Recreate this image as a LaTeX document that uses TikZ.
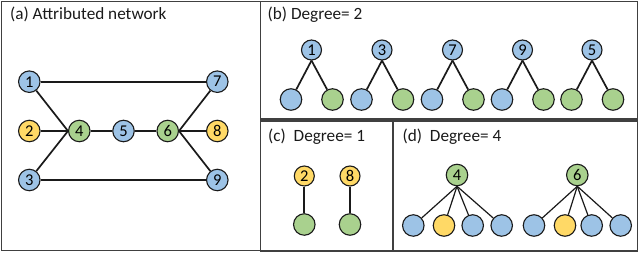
\documentclass[tikz,border=0pt]{standalone}
\usepackage{fontspec}
\setmainfont{Carlito}
\definecolor{nblue}{HTML}{9DC3E6}
\definecolor{ngreen}{HTML}{A9D18E}
\definecolor{nyellow}{HTML}{FFD966}
\definecolor{ink}{HTML}{1A1A1A}
\definecolor{frame}{HTML}{404040}
\begin{document}
\begin{tikzpicture}[x=1pt,y=-1pt,
  nd/.style={circle, draw=ink, line width=1.1pt, minimum size=21.5pt, inner sep=0pt, font=\fontsize{16.5}{16.5}\selectfont},
  bl/.style={nd, fill=nblue}, gr/.style={nd, fill=ngreen}, ye/.style={nd, fill=nyellow},
  sm/.style={minimum size=20pt},
  ed/.style={line width=1.7pt, draw=ink},
  edt/.style={line width=1.2pt, draw=ink},
  panel/.style={draw=frame, line width=1.2pt},
  ttl/.style={anchor=base west, font=\fontsize{17.2}{20}\selectfont, inner sep=0pt, text=ink}]
\useasboundingbox (0,0) rectangle (640,253);
% panels
\draw[panel] (1.5,1.5) rectangle (260.5,250.5);
\draw[panel] (260.5,1.5) rectangle (637.5,119);
\draw[panel] (260.5,121) rectangle (393,251);
\draw[panel] (393,121) rectangle (637.5,251);
% titles
\node[ttl] (ta) at (10,20) {(a) Attributed network};
\node[ttl] (tb) at (267.5,19.5) {(b) Degree= 2};
\node[ttl] (tc) at (268,141.5) {(c)\ \ Degree= 1};
\node[ttl] (td) at (402.5,141.5) {(d)\ \ Degree= 4};
% (a) network
\node[bl] (a1) at (29.3,81.7) {1};
\node[ye] (a2) at (29.3,131) {2};
\node[bl] (a3) at (29.3,180) {3};
\node[gr] (a4) at (79.3,131) {4};
\node[bl] (a5) at (123.5,131) {5};
\node[gr] (a6) at (167.7,131) {6};
\node[bl] (a7) at (217.3,81.7) {7};
\node[ye] (a8) at (217.3,131) {8};
\node[bl] (a9) at (217.3,180) {9};
\draw[ed] (a1) -- (a7);
\draw[ed] (a3) -- (a9);
\draw[ed] (a1) -- (a4.west);
\draw[ed] (a2) -- (a4.west);
\draw[ed] (a3) -- (a4.west);
\draw[ed] (a4) -- (a5);
\draw[ed] (a5) -- (a6);
\draw[ed] (a6.east) -- (a7);
\draw[ed] (a6.east) -- (a8);
\draw[ed] (a6.east) -- (a9);
% (b) degree 2
\foreach \lab/\x/\cl/\cr in {1/311.5/bl/gr, 3/382/bl/gr, 7/452.5/bl/gr, 9/522.5/bl/gr, 5/592/gr/gr}{
  \node[bl, sm] (b\lab) at (\x,50) {\lab};
  \node[\cl] (b\lab l) at (\x-20.5,99.5) {};
  \node[\cr] (b\lab r) at (\x+21,99.5) {};
  \draw[ed] (b\lab.south) -- (b\lab l);
  \draw[ed] (b\lab.south) -- (b\lab r);
}
% (c) degree 1
\node[ye, sm] (c2) at (304.3,176) {2};
\node[ye, sm] (c8) at (350,176) {8};
\node[gr] (c2b) at (304.3,224.5) {};
\node[gr] (c8b) at (350,224.5) {};
\draw[ed] (c2) -- (c2b);
\draw[ed] (c8) -- (c8b);
% (d) degree 4
\node[gr] (d4) at (457,175) {4};
\node[bl] (d4a) at (413.3,225.5) {};
\node[ye] (d4b) at (444,225.5) {};
\node[bl] (d4c) at (472.7,225.5) {};
\node[bl] (d4d) at (501.7,225.5) {};
\foreach \t in {a,b,c,d} \draw[edt] (d4.south) -- (d4\t);
\node[gr] (d6) at (577.3,175) {6};
\node[bl] (d6a) at (534,225.5) {};
\node[ye] (d6b) at (565,225.5) {};
\node[bl] (d6c) at (591.7,225.5) {};
\node[bl] (d6d) at (620.7,225.5) {};
\foreach \t in {a,b,c,d} \draw[edt] (d6.south) -- (d6\t);
\end{tikzpicture}
\end{document}
